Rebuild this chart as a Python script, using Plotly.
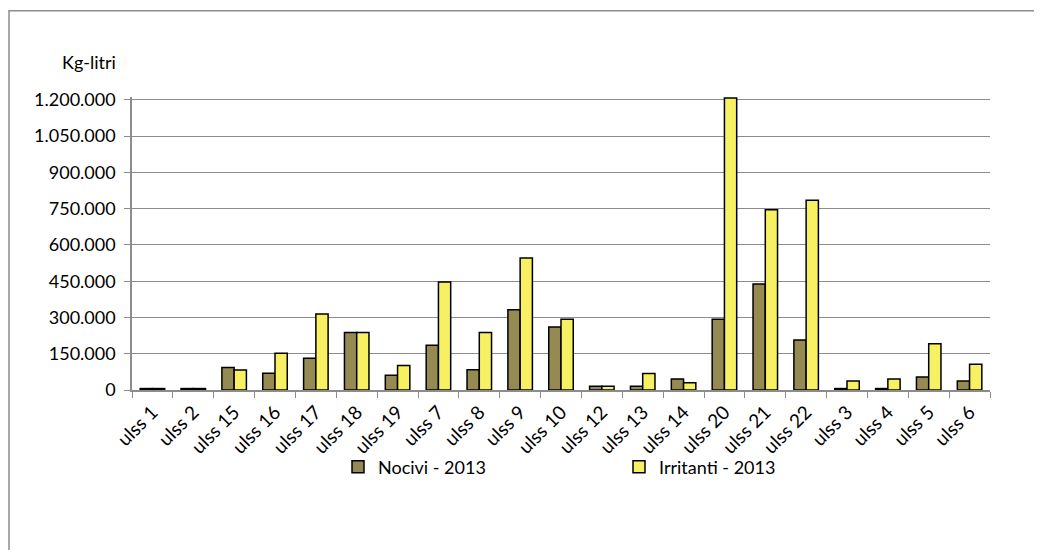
import plotly.graph_objects as go

categories = ["ulss 1", "ulss 2", "ulss 15", "ulss 16", "ulss 17", "ulss 18", "ulss 19",
              "ulss 7", "ulss 8", "ulss 9", "ulss 10", "ulss 12", "ulss 13", "ulss 14",
              "ulss 20", "ulss 21", "ulss 22", "ulss 3", "ulss 4", "ulss 5", "ulss 6"]
nocivi = [6000, 6000, 93000, 69000, 131000, 238000, 61000,
          185000, 84000, 332000, 261000, 15000, 15000, 46000,
          293000, 438000, 207000, 6000, 6000, 54000, 37000]
irritanti = [6000, 6000, 83000, 152000, 314000, 238000, 101000,
             447000, 238000, 546000, 293000, 15000, 68000, 30000,
             1208000, 746000, 785000, 37000, 46000, 191000, 106000]
y_ticks = [0, 150000, 300000, 450000, 600000, 750000, 900000, 1050000, 1200000]

FONT = "Lato"
OFF = 8  # page body margin
YMAX = 1212000
PW = 858
PH = 290 * YMAX / 1200000
TOP = 390 - PH
L, R, T, B = 132 - OFF, 1034 - 990, TOP - OFF, 550 - 390


def px(x):
    return (x - 132) / PW


def py(y):
    return (390 - y) / PH


fig = go.Figure()
fig.add_trace(go.Bar(x=categories, y=nocivi, name="Nocivi - 2013",
                     marker=dict(color="#958B52", line=dict(color="black", width=1.5))))
fig.add_trace(go.Bar(x=categories, y=irritanti, name="Irritanti - 2013",
                     marker=dict(color="#F6F062", line=dict(color="black", width=1.5))))

fig.update_layout(
    width=1026, height=542,
    margin=dict(l=L, r=R, t=T, b=B),
    paper_bgcolor="white", plot_bgcolor="white",
    separators=",.",
    barmode="group", bargap=0.40, bargroupgap=0,
    font=dict(family=FONT, size=18, color="black"),
    showlegend=True,
    legend=dict(orientation="h", x=px(338), y=py(467), xanchor="left", yanchor="middle",
                entrywidth=236, entrywidthmode="pixels", itemwidth=30,
                bgcolor="rgba(0,0,0,0)",
                font=dict(family=FONT, size=18, color="black"), itemclick=False),
    xaxis=dict(showline=True, linecolor="#8C8C8C", linewidth=1.5,
               ticks="outside", tickson="boundaries", ticklen=6, tickcolor="#8C8C8C",
               ticklabelstandoff=2,
               tickangle=-45, tickfont=dict(family=FONT, size=19), showgrid=False),
    yaxis=dict(range=[0, YMAX], tickvals=y_ticks, tickformat=",d",
               showline=True, linecolor="#8C8C8C", linewidth=1.5,
               ticks="outside", ticklen=6, tickcolor="#8C8C8C", ticklabelstandoff=5,
               showgrid=True, gridcolor="#8C8C8C", gridwidth=1.2,
               zeroline=False, tickfont=dict(family=FONT, size=18)),
    annotations=[dict(text="Kg-litri", xref="paper", yref="paper",
                      x=px(118), y=py(62),
                      xanchor="right", yanchor="middle", showarrow=False,
                      font=dict(family=FONT, size=18, color="black"))],
    shapes=[dict(type="rect", xref="paper", yref="paper",
                 x0=px(9), x1=px(1060),
                 y0=py(580), y1=py(11),
                 line=dict(color="#8C8C8C", width=1.5), fillcolor="rgba(0,0,0,0)",
                 layer="below")],
)

fig.write_html("out.html")
